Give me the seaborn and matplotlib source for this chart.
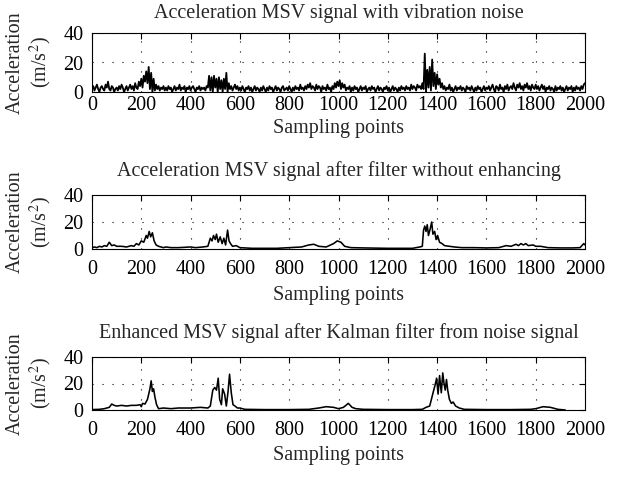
import numpy as np
import pandas as pd
import matplotlib
matplotlib.use("Agg")
import matplotlib.pyplot as plt
import seaborn as sns

# ---- data -------------------------------------------------------------
# raw MSV signal with vibration noise, one reading every 5 sampling points
noisy_step = 5
noisy_msv = [
    2, 4, 1, 3, 5, 2, 0, 3, 4, 2, 1, 5, 3, 7, 2, 1, 4, 3, 0, 2,
    3, 1, 4, 2, 5, 3, 0, 2, 4, 1, 3, 5, 2, 4, 1, 6, 3, 2, 7, 4,
    9, 3, 11, 7, 14, 6, 17, 2, 13, 0, 9, 1, 5, 2, 4, 1, 3, 2, 4, 1,
    3, 1, 4, 2, 3, 0, 2, 4, 1, 3, 2, 5, 1, 3, 2, 4, 0, 3, 2, 4,
    1, 3, 4, 2, 0, 3, 2, 4, 1, 3, 2, 3, 1, 4, 3, 11, 1, 10, 0, 11,
    3, 9, 0, 10, 2, 8, 0, 9, 2, 13, 0, 6, 2, 4, 1, 3, 5, 2, 4, 1,
    3, 1, 4, 2, 0, 3, 2, 4, 1, 3, 0, 2, 4, 1, 3, 2, 0, 3, 1, 4,
    2, 0, 3, 1, 4, 2, 3, 0, 2, 4, 1, 3, 2, 0, 3, 4, 1, 2, 3, 1,
    4, 2, 0, 3, 1, 4, 2, 3, 1, 5, 2, 3, 1, 4, 2, 5, 3, 6, 2, 4,
    3, 1, 5, 2, 4, 3, 0, 4, 2, 3, 1, 5, 2, 3, 0, 4, 2, 6, 3, 7,
    4, 8, 2, 6, 3, 5, 1, 3, 2, 4, 0, 3, 1, 4, 2, 3, 0, 2, 4, 1,
    3, 2, 4, 0, 2, 3, 1, 4, 2, 3, 0, 2, 4, 1, 3, 2, 0, 3, 2, 4,
    1, 3, 0, 2, 4, 1, 3, 2, 0, 3, 1, 4, 2, 3, 1, 4, 2, 3, 1, 5,
    2, 4, 3, 1, 5, 3, 4, 2, 6, 2, 26, 0, 15, 3, 17, 1, 22, 4, 13, 2,
    12, 5, 9, 3, 6, 2, 4, 1, 3, 2, 5, 1, 3, 0, 2, 4, 1, 3, 2, 4,
    1, 3, 2, 0, 4, 2, 3, 1, 4, 2, 0, 3, 1, 4, 2, 3, 0, 2, 4, 1,
    3, 2, 4, 1, 3, 5, 2, 0, 4, 3, 1, 5, 2, 3, 0, 4, 2, 5, 1, 3,
    4, 2, 6, 3, 1, 5, 3, 6, 2, 4, 1, 5, 3, 6, 2, 4, 1, 5, 3, 2,
    5, 2, 4, 1, 3, 5, 2, 4, 0, 3, 2, 4, 1, 3, 2, 0, 4, 1, 3, 2,
    4, 1, 3, 0, 2, 4, 1, 3, 2, 4, 0, 3, 1, 4, 2, 3, 1, 4, 2, 5,
    6,
]

# MSV after the plain filter
filtered_x = [0, 10, 20, 30, 40, 50, 60, 70, 80, 90, 100, 120, 140, 160, 170,
              180, 190, 200, 210, 220, 225, 232, 238, 245, 252, 260, 270, 290,
              300, 320, 350, 400, 420, 450, 470, 480, 487, 493, 500, 505, 512,
              520, 528, 535, 542, 550, 556, 562, 570, 585, 600, 650, 700, 750,
              800, 850, 880, 900, 920, 950, 980, 995, 1010, 1025, 1050, 1100,
              1200, 1300, 1330, 1340, 1345, 1350, 1355, 1360, 1365, 1372, 1378,
              1383, 1390, 1396, 1402, 1410, 1420, 1430, 1450, 1470, 1500, 1550,
              1600, 1650, 1680, 1700, 1720, 1730, 1740, 1750, 1760, 1770, 1790,
              1800, 1820, 1850, 1900, 1950, 1980, 1995, 2000]
filtered_msv = [1, 1.5, 1, 2, 1.5, 2.5, 2, 5, 2.5, 3, 2, 2, 1.5, 2.5, 2,
                4, 3, 6, 5, 10, 8, 13, 9, 12, 6, 3, 2, 1,
                1.5, 1, 1, 1.5, 1, 1.5, 2, 8, 6, 10, 7, 11, 5,
                9, 4, 8, 3, 14, 6, 4, 2, 2.5, 1, 0.5, 0.5, 0.5,
                1, 1.5, 3, 3.5, 2, 1.5, 4, 6, 5, 2, 1, 0.8,
                0.5, 0.5, 1.5, 2, 14, 17, 13, 18, 10, 15, 20,
                11, 13, 7, 10, 5, 4, 2.5, 2, 1.5, 1, 1,
                0.8, 1, 2.5, 2, 3.5, 2.5, 4, 3, 4, 2.5, 3,
                2, 2, 1, 0.8, 0.8, 1, 4, 3]

# MSV enhanced by the Kalman filter
kalman_x = [0, 30, 50, 60, 70, 80, 90, 100, 120, 140, 160, 180, 195, 200, 205,
            215, 225, 235, 240, 245, 250, 255, 262, 270, 290, 320, 350, 380,
            400, 440, 470, 480, 490, 498, 505, 512, 518, 525, 530, 538, 545,
            552, 558, 565, 572, 580, 590, 600, 620, 700, 800, 880, 920, 950,
            980, 1000, 1020, 1040, 1055, 1070, 1100, 1200, 1300, 1340, 1355,
            1370, 1385, 1392, 1398, 1404, 1410, 1417, 1423, 1428, 1433, 1438,
            1443, 1450, 1458, 1465, 1475, 1490, 1510, 1600, 1700, 1780, 1800,
            1830, 1860, 1890, 1920]
kalman_msv = [0.3, 0.5, 1, 1.5, 2, 4.5, 3.5, 3, 3.5, 3, 3.5, 3.5, 4, 2.5, 5,
              4.5, 8, 16, 22, 14, 16, 10, 4, 1, 1.5, 1, 1.5, 1.5,
              1.5, 2, 1.5, 3, 15, 17, 15, 24, 8, 4, 16, 12, 3,
              14, 27, 13, 4, 3, 1.5, 1.5, 0.5, 0.3, 0.3, 0.5, 1.5, 2.5,
              2, 1, 2, 5, 2, 1, 0.5, 0.3, 0.3, 0.5, 2,
              3, 14, 19, 24, 12, 26, 13, 28, 20, 15, 23,
              15, 8, 5, 6, 3, 1.5, 0.5, 0.3, 0.3, 0.5, 1,
              2.5, 2, 0.5, 0]

titles = [
    "Acceleration MSV signal with vibration noise",
    "Acceleration MSV signal after filter without enhancing",
    "Enhanced MSV signal after Kalman filter from noise signal",
]
x_ticks = list(range(0, 2001, 200))
y_ticks = [0, 20, 40]

# ---- style ------------------------------------------------------------
sns.set_theme(style="white")
plt.rcParams["font.family"] = ["Liberation Serif", "DejaVu Serif"]
plt.rcParams["mathtext.fontset"] = "stix"
FS = 14.5

frames = [
    pd.DataFrame({"x": np.arange(len(noisy_msv)) * noisy_step, "y": noisy_msv}),
    pd.DataFrame({"x": filtered_x, "y": filtered_msv}),
    pd.DataFrame({"x": kalman_x, "y": kalman_msv}),
]

fig = plt.figure(figsize=(6.42, 4.94), dpi=100)
W, H = 642, 494
left, right = 92, 585
# (top px, bottom px, x tick pad, xlabel pad, title pad, line width)
panels = [(33, 92, 3, 3, 11, 1.3),
          (195, 249, 8, 5, 14, 1.15),
          (357, 410, 8, 4, 14, 1.15)]

for (top, bottom, tpad, lpad, ttl_pad, lw), df, title in zip(panels, frames, titles):
    ax = fig.add_axes([left / W, 1 - bottom / H, (right - left) / W, (bottom - top) / H])
    sns.lineplot(data=df, x="x", y="y", ax=ax, color="black", linewidth=lw,
                 estimator=None, sort=False)
    ax.set_xlim(0, 2000)
    ax.set_ylim(0, 40)
    ax.set_xticks(x_ticks)
    ax.set_yticks(y_ticks)
    ax.grid(True, color="black", linestyle=(0, (1, 8)), linewidth=0.8)
    ax.tick_params(direction="in", length=4, width=0.8, top=True, right=True,
                   labelsize=FS, colors="black")
    ax.tick_params(axis="x", pad=tpad)
    ax.tick_params(axis="y", pad=6)
    for s in ax.spines.values():
        s.set_color("black")
        s.set_linewidth(0.8)
    ax.set_title(title, fontsize=FS, pad=ttl_pad)
    ax.set_xlabel("Sampling points", fontsize=FS, labelpad=lpad)
    ax.set_ylabel("Acceleration\n(m/s$^{2}$)", fontsize=FS, labelpad=7,
                  linespacing=1.15)

fig.savefig("out.png", dpi=100)
